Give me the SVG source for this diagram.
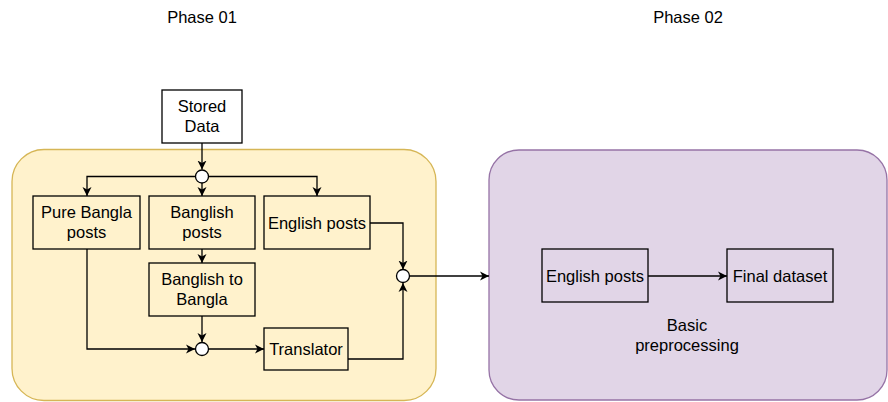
<svg xmlns="http://www.w3.org/2000/svg" width="888" height="402" viewBox="0 0 888 402">
<defs>
<marker id="arr" markerUnits="userSpaceOnUse" markerWidth="11" markerHeight="11" refX="9" refY="4.5" orient="auto" viewBox="0 0 11 9">
<path d="M0,0 L9,4.5 L0,9 L2.5,4.5 Z" fill="#000"/>
</marker>
</defs>
<style>
text{font-family:"Liberation Sans",Arial,sans-serif;font-size:16.5px;fill:#000;text-anchor:middle}
.box{stroke:#000;stroke-width:1.3}
.line{fill:none;stroke:#000;stroke-width:1.3;marker-end:url(#arr)}
.junc{fill:#fff;stroke:#000;stroke-width:1.3}
</style>
<rect width="888" height="402" fill="#fff"/>
<g id="phase1-label"><text x="202" y="23">Phase 01</text></g>
<g id="phase2-label"><text x="688" y="23">Phase 02</text></g>
<g id="phase1"><rect x="12" y="149.5" width="424" height="251" rx="32" fill="#fff2cc" stroke="#d6b656" stroke-width="1.3"/></g>
<g id="phase2"><rect x="489" y="150" width="398" height="250" rx="30" fill="#e1d5e7" stroke="#9673a6" stroke-width="1.3"/>
<text x="687" y="331">Basic</text><text x="687" y="351">preprocessing</text></g>
<g id="connectors">
<path class="line" d="M202,143 V169.5"/>
<path class="line" d="M202,183 V196"/>
<path class="line" d="M195.5,176.5 H87 V196"/>
<path class="line" d="M208.5,176.5 H317 V196"/>
<path class="line" d="M202,249 V263"/>
<path class="line" d="M202,316 V342"/>
<path class="line" d="M87,249 V349 H195"/>
<path class="line" d="M208.5,349 H264"/>
<path class="line" d="M348,359 H403 V283"/>
<path class="line" d="M370,223 H403 V269.5"/>
<path class="line" d="M409.5,276 H489"/>
<path class="line" d="M648,276 H727"/>
</g>
<g id="stored-data"><rect class="box" x="162" y="90" width="80" height="53" fill="#fff"/><text x="202" y="112">Stored</text><text x="202" y="132">Data</text></g>
<g id="j1"><circle class="junc" cx="202" cy="176.5" r="6.5"/></g>
<g id="pure-bangla"><rect class="box" x="33" y="196" width="107" height="53" fill="#fff2cc"/><text x="86.5" y="218">Pure Bangla</text><text x="86.5" y="238">posts</text></g>
<g id="banglish"><rect class="box" x="149" y="196" width="106" height="53" fill="#fff2cc"/><text x="202" y="218">Banglish</text><text x="202" y="238">posts</text></g>
<g id="english1"><rect class="box" x="264" y="196" width="106" height="53" fill="#fff2cc"/><text x="317" y="229">English posts</text></g>
<g id="banglish-to-bangla"><rect class="box" x="149" y="263" width="106" height="53" fill="#fff2cc"/><text x="202" y="285">Banglish to</text><text x="202" y="305">Bangla</text></g>
<g id="j2"><circle class="junc" cx="202" cy="349" r="6.5"/></g>
<g id="translator"><rect class="box" x="264" y="328" width="84" height="42" fill="#fff2cc"/><text x="306" y="355">Translator</text></g>
<g id="j3"><circle class="junc" cx="403" cy="276" r="6.5"/></g>
<g id="english2"><rect class="box" x="542" y="249" width="106" height="53" fill="#e1d5e7"/><text x="595" y="282">English posts</text></g>
<g id="final"><rect class="box" x="727" y="249" width="106" height="53" fill="#e1d5e7"/><text x="780" y="282">Final dataset</text></g>
</svg>
